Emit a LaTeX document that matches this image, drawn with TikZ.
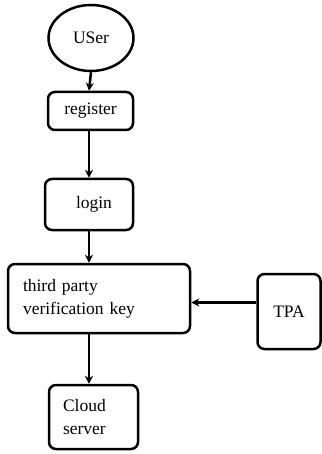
\documentclass[tikz,border=0pt]{standalone}
\usepackage{fontspec}
\setmainfont{Liberation Serif}
\usetikzlibrary{shapes.geometric,arrows.meta}
\begin{document}
\begin{tikzpicture}[x=1pt,y=-1pt,
    box/.style={draw,line width=2.5pt,rounded corners=7pt,inner sep=0pt,
      font=\fontsize{17.5}{23}\selectfont},
    arr/.style={line width=2.5pt,-{Stealth[length=8pt,width=8pt]}}]
    \useasboundingbox (0,0) rectangle (321,454);

    \node[box,ellipse,minimum width=85pt,minimum height=66pt] (user) at (91,38) {USer};
    \node[box,minimum width=85pt,minimum height=38pt] (register) at (90.5,111) {register};
    \node[box,minimum width=88pt,minimum height=51pt] (login) at (89,204.5) {\hspace*{10pt}login};
    \node[box,minimum width=182pt,minimum height=69pt,text width=152pt,align=left] (third) at (99,298.5) {third party\\verification key};
    \node[box,minimum width=63pt,minimum height=75pt] (tpa) at (289,311.5) {TPA};
    \node[box,minimum width=89pt,minimum height=64pt,text width=61pt,align=left] (cloud) at (93.5,417) {Cloud\\server};

    \draw[arr] (user.south) -- (register.north -| login);
    \draw[arr] (register.south -| login) -- (login.north);
    \draw[arr] (login.south) -- (third.north -| login);
    \draw[arr] (third.south -| login) -- (cloud.north -| login);
    \draw[arr] ([yshift=9pt]tpa.west) -- ([yshift=9pt]tpa.west -| third.east);
\end{tikzpicture}
\end{document}
